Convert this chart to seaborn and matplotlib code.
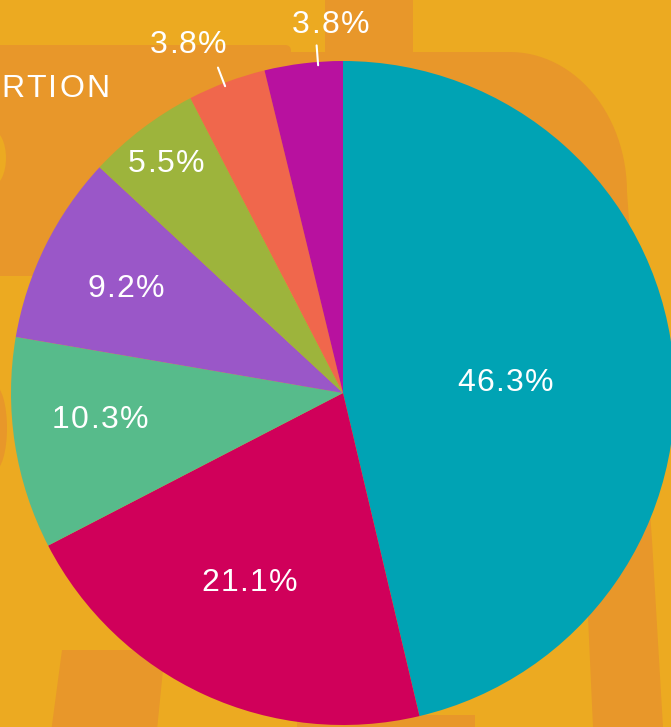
import numpy as np
import matplotlib.pyplot as plt
import seaborn as sns
from matplotlib import font_manager, ft2font
from matplotlib.transforms import IdentityTransform
from matplotlib.patches import Polygon, FancyBboxPatch, Ellipse

# slice values (percent), clockwise from 12 o'clock
shares = [46.3, 21.1, 10.3, 9.2, 5.5, 3.8, 3.8]
labels = ['46.3%', '21.1%', '10.3%', '9.2%', '5.5%', '3.8%', '3.8%']
slice_colors = ['#00A3B4', '#D0005A', '#57BB8B', '#9A57C8', '#9DB43C', '#F0674C', '#B8119F']
title_part = 'RTION'

# label placement (radius as fraction of pie radius, angle nudge in degrees)
label_r = [0.49, 0.63, 0.735, 0.73, 0.88, 1.156, 1.118]
label_dang = [-2.0, -2.0, -3.2, 0.0, 0.0, 3.3, -4.9]
outside = [False, False, False, False, False, True, True]
leader_dang = [0, 0, 0, 0, 0, 0.5, -2.5]

sns.set_theme(style='white')
sns.set_palette(slice_colors)
plt.rcParams['font.family'] = ['Liberation Sans', 'DejaVu Sans']

bg = '#ECAA21'
dark = '#E8972A'
FS = 23       # font size, pt
GAP = 1.4     # letter spacing, px
DPI = 100

fig = plt.figure(figsize=(6.71, 7.27), dpi=DPI, facecolor=bg)

font = ft2font.FT2Font(font_manager.findfont('Liberation Sans'))
font.set_size(FS, DPI)


def advance(ch):
    return font.load_char(ord(ch)).linearHoriAdvance / 65536


def spaced_text(xc, yc, s, ha='center', gap=GAP):
    # xc, yc in display pixels (y up); yc is the middle of the digits
    adv = [advance(c) for c in s]
    total = sum(adv) + gap * (len(s) - 1)
    x = xc - total / 2 if ha == 'center' else xc
    base = yc - 0.358 * FS * DPI / 72
    for c, a in zip(s, adv):
        fig.text(x, base, c, transform=IdentityTransform(), color='white',
                 fontsize=FS, ha='left', va='baseline', zorder=5)
        x += a + gap


# background decoration, pixel coordinates (y down)
bax = fig.add_axes([0, 0, 1, 1], zorder=0)
bax.set_xlim(0, 671)
bax.set_ylim(727, 0)
bax.axis('off')
bax.add_patch(FancyBboxPatch((-20, 45), 311, 231, boxstyle='round,pad=0,rounding_size=6',
                             fc=dark, ec='none'))
bax.add_patch(FancyBboxPatch((325, -30), 88, 120, boxstyle='round,pad=0,rounding_size=14',
                             fc=dark, ec='none'))
t = np.linspace(0, np.pi / 2, 30)
arc = np.column_stack([510 + 117 * np.sin(t), 52 + 140 * (1 - np.cos(t))])
bowl = np.vstack([[290, 52], [510, 52], arc, [[652, 540], [663, 727], [593, 727],
                                              [588, 617], [300, 400]]])
bax.add_patch(Polygon(bowl, closed=True, fc=dark, ec='none'))
bax.add_patch(Polygon([[62, 650], [165, 650], [156, 740], [50, 740]], closed=True,
                      fc=dark, ec='none'))
bax.add_patch(Polygon([[297, 715], [475, 715], [475, 740], [297, 740]], closed=True,
                      fc=dark, ec='none'))
bax.add_patch(Ellipse((-8, 158), 28, 56, fc=bg, ec='none'))
bax.add_patch(Ellipse((-6, 428), 26, 86, fc=dark, ec='none'))

# pie, axes in pixel units centred on the pie
ax = fig.add_axes([0, 0, 1, 1], zorder=1)
ax.patch.set_alpha(0)
R = 332
wedges, _ = ax.pie(shares, colors=slice_colors, startangle=90, counterclock=False,
                   radius=R, center=(0, 0), wedgeprops=dict(linewidth=0))
ax.set_xlim(-343, 328)
ax.set_ylim(-334, 393)
ax.set_aspect('equal')
ax.axis('off')

for w, lab, r, da, out, lda in zip(wedges, labels, label_r, label_dang, outside, leader_dang):
    mid = np.deg2rad((w.theta1 + w.theta2) / 2 + da)
    px, py = ax.transData.transform((r * R * np.cos(mid), r * R * np.sin(mid)))
    spaced_text(px, py, lab)
    if out:
        a = np.deg2rad((w.theta1 + w.theta2) / 2 + lda)
        ax.plot([0.99 * R * np.cos(a), 1.05 * R * np.cos(a)],
                [0.99 * R * np.sin(a), 1.05 * R * np.sin(a)], color='white', lw=1.5)

spaced_text(1, 727 - 85.5, title_part, ha='left', gap=2.2)

fig.savefig('out.png', dpi=DPI, facecolor=bg)
